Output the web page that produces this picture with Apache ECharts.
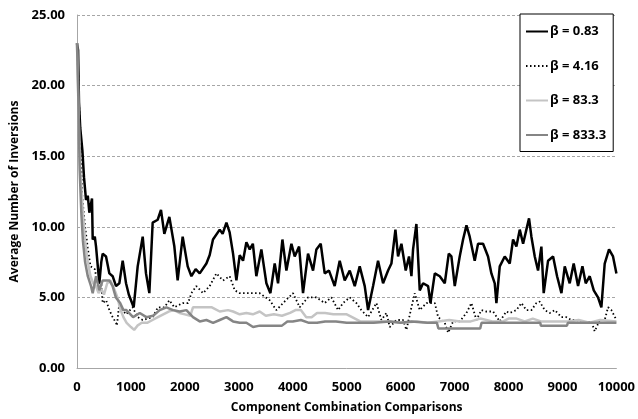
<!DOCTYPE html>
<html>
<head>
<meta charset="utf-8">
<script src="https://cdn.jsdelivr.net/npm/echarts@6/dist/echarts.min.js"></script>
<style>
  html, body { margin: 0; padding: 0; background: #fff; }
  #chart { width: 638px; height: 419px; }
</style>
</head>
<body>
<div id="chart"></div>
<script>
// beta = 0.83
const xB1 = [0, 20, 37, 60, 100, 130, 167, 200, 229, 278, 291, 330, 353, 414, 450, 476, 538, 600, 661, 723, 785, 847, 909, 960, 1001, 1051, 1125, 1218, 1279, 1341, 1403, 1496, 1557, 1619, 1712, 1805, 1866, 1959, 2052, 2121, 2200, 2275, 2399, 2460, 2521, 2646, 2700, 2770, 2830, 2893, 2955, 3016, 3078, 3140, 3202, 3260, 3325, 3418, 3511, 3585, 3665, 3727, 3808, 3882, 3975, 4036, 4117, 4190, 4283, 4376, 4438, 4518, 4592, 4672, 4777, 4870, 4963, 5056, 5149, 5241, 5334, 5396, 5489, 5581, 5674, 5767, 5829, 5903, 5952, 6014, 6094, 6155, 6200, 6230, 6292, 6354, 6416, 6509, 6553, 6633, 6725, 6818, 6892, 6941, 7003, 7095, 7157, 7220, 7280, 7373, 7435, 7528, 7620, 7682, 7744, 7775, 7837, 7930, 8022, 8084, 8146, 8208, 8270, 8331, 8380, 8424, 8486, 8547, 8609, 8652, 8733, 8826, 8900, 8981, 9042, 9134, 9208, 9289, 9370, 9431, 9505, 9580, 9659, 9721, 9783, 9863, 9937, 10000];
const yB1 = [23.0, 22.5, 18.8, 17.0, 15.4, 13.5, 11.9, 12.2, 11.0, 12.0, 9.1, 9.3, 8.6, 6.0, 7.5, 8.1, 7.9, 6.7, 6.5, 5.8, 6.0, 7.6, 6.0, 5.2, 4.8, 4.3, 7.2, 9.3, 6.7, 5.3, 10.3, 10.5, 11.2, 9.5, 10.7, 8.6, 6.2, 9.3, 7.2, 6.5, 7.0, 6.7, 7.4, 8.0, 9.1, 9.8, 9.5, 10.3, 9.6, 8.1, 6.2, 8.0, 7.6, 8.9, 8.4, 8.8, 6.5, 8.4, 6.0, 5.3, 7.4, 6.0, 9.1, 6.9, 8.8, 7.9, 8.6, 5.3, 8.1, 6.9, 8.4, 8.8, 6.7, 6.9, 5.8, 7.6, 6.2, 6.9, 5.8, 7.2, 5.8, 4.1, 5.8, 7.6, 6.0, 6.9, 7.4, 9.8, 7.9, 8.8, 6.9, 7.9, 6.5, 8.4, 10.2, 5.5, 6.0, 5.8, 4.6, 6.7, 6.5, 6.0, 8.1, 7.9, 5.8, 7.9, 9.1, 10.1, 9.3, 7.6, 8.8, 8.8, 7.9, 6.7, 6.0, 4.6, 7.2, 7.9, 7.4, 9.1, 8.6, 9.8, 8.8, 9.8, 10.6, 9.3, 7.9, 6.9, 8.6, 5.3, 7.6, 7.9, 6.5, 5.3, 7.2, 6.0, 7.4, 5.8, 7.2, 6.0, 6.5, 5.5, 5.0, 4.3, 7.4, 8.4, 7.9, 6.7];

// beta = 4.16
const xB2 = [0, 30, 60, 100, 150, 200, 250, 330, 380, 450, 476, 540, 600, 661, 723, 740, 785, 847, 909, 1030, 1125, 1218, 1403, 1500, 1620, 1712, 1805, 1959, 2059, 2121, 2213, 2337, 2460, 2584, 2707, 2831, 2924, 3016, 3202, 3387, 3572, 3696, 3820, 4005, 4129, 4283, 4438, 4592, 4716, 4840, 4932, 5056, 5180, 5272, 5396, 5551, 5643, 5736, 5798, 5921, 6044, 6107, 6200, 6261, 6354, 6478, 6633, 6695, 6818, 6880, 6973, 7095, 7220, 7312, 7404, 7497, 7590, 7713, 7837, 7960, 8022, 8146, 8239, 8331, 8424, 8517, 8578, 8671, 8764, 8857, 8981, 9073, 9166, 9258, 9351, 9444, 9536, 9598, 9691, 9783, 9845, 9907, 10000];
const yB2 = [23.0, 20.0, 16.0, 12.0, 10.0, 8.5, 7.2, 7.0, 6.0, 6.0, 4.6, 4.8, 4.1, 3.6, 3.2, 3.0, 4.6, 4.1, 3.8, 4.3, 3.6, 3.4, 3.6, 4.3, 4.3, 4.8, 4.3, 4.6, 4.6, 5.3, 5.8, 5.3, 5.8, 6.7, 6.2, 6.5, 5.5, 5.3, 5.3, 5.3, 4.8, 4.1, 4.6, 5.3, 4.3, 5.0, 5.0, 4.6, 5.0, 4.1, 4.6, 5.0, 4.6, 4.1, 3.6, 4.6, 3.4, 3.9, 2.9, 3.4, 3.4, 2.7, 4.3, 5.3, 4.1, 4.6, 4.6, 3.6, 3.2, 2.5, 3.3, 3.3, 3.9, 4.6, 3.4, 4.1, 4.0, 4.0, 3.3, 4.0, 3.9, 4.1, 4.6, 4.1, 4.1, 4.6, 4.7, 4.1, 3.9, 4.1, 3.6, 3.6, 3.4, 3.4, 3.3, 3.2, 3.3, 2.6, 3.4, 3.4, 4.3, 4.1, 3.4];

// beta = 83.3
const xB3 = [0, 30, 60, 100, 150, 200, 250, 300, 350, 400, 450, 500, 560, 620, 690, 750, 800, 860, 920, 1000, 1060, 1120, 1200, 1300, 1400, 1500, 1600, 1700, 1800, 1900, 2000, 2100, 2150, 2250, 2400, 2500, 2646, 2800, 2893, 3016, 3140, 3260, 3387, 3500, 3650, 3800, 3950, 4050, 4150, 4250, 4350, 4450, 4600, 4750, 4900, 5000, 5100, 5250, 5500, 5800, 6000, 6300, 6500, 6700, 6900, 7100, 7300, 7475, 7700, 7900, 8000, 8150, 8300, 8450, 8600, 8800, 9000, 9100, 9300, 9500, 9700, 10000];
const yB3 = [23.0, 18.0, 14.0, 11.5, 9.0, 7.5, 6.5, 6.0, 5.8, 5.3, 5.6, 5.2, 6.0, 6.2, 5.6, 5.0, 4.2, 3.6, 3.2, 2.9, 2.7, 3.0, 3.2, 3.2, 3.4, 3.6, 3.8, 4.0, 4.1, 3.9, 3.8, 3.7, 4.3, 4.3, 4.3, 4.3, 4.0, 4.1, 4.0, 3.8, 3.9, 3.8, 4.0, 3.7, 3.8, 3.7, 3.9, 4.1, 4.1, 3.6, 3.6, 3.9, 3.9, 3.8, 3.8, 3.8, 3.6, 3.3, 3.3, 3.3, 3.2, 3.3, 3.2, 3.3, 3.4, 3.3, 3.3, 3.5, 3.3, 3.3, 3.5, 3.5, 3.3, 3.5, 3.3, 3.3, 3.3, 3.3, 3.4, 3.2, 3.4, 3.3];

// beta = 833.3
const xB4 = [0, 20, 50, 80, 110, 150, 200, 260, 291, 353, 414, 476, 538, 600, 660, 720, 800, 860, 915, 1040, 1163, 1286, 1410, 1533, 1657, 1780, 1904, 2028, 2150, 2275, 2399, 2523, 2646, 2770, 2893, 3016, 3140, 3264, 3387, 3500, 3650, 3800, 3900, 4000, 4150, 4300, 4450, 4600, 4800, 5000, 5250, 5500, 5800, 6000, 6200, 6500, 6672, 6700, 7000, 7300, 7475, 7500, 7800, 8000, 8300, 8588, 8600, 9000, 9083, 9100, 9500, 10000];
const yB4 = [23.0, 20.0, 14.0, 11.0, 9.0, 7.5, 6.5, 5.8, 5.3, 6.5, 5.5, 6.2, 6.2, 6.2, 5.8, 5.0, 4.6, 4.1, 4.1, 3.6, 3.9, 3.6, 3.7, 4.1, 4.3, 4.1, 4.0, 4.1, 3.6, 3.3, 3.4, 3.2, 3.4, 3.6, 3.3, 3.2, 3.2, 2.9, 3.0, 3.0, 3.0, 3.0, 3.3, 3.3, 3.4, 3.2, 3.2, 3.3, 3.3, 3.2, 3.2, 3.2, 3.3, 3.2, 3.3, 3.2, 3.2, 2.8, 2.8, 2.8, 2.8, 3.2, 3.2, 3.2, 3.2, 3.2, 3.0, 3.0, 3.0, 3.2, 3.2, 3.2];

const names = ['β = 0.83', 'β = 4.16', 'β = 83.3', 'β = 833.3'];
const font = 'Open Sans';

const pairs = (xs, ys) => xs.map((x, i) => [x, ys[i]]);

const chart = echarts.init(document.getElementById('chart'));
const option = {
  animation: false,
  textStyle: { fontFamily: font },
  grid: { left: 77, right: 21, top: 15, bottom: 51 },
  legend: {
    orient: 'vertical',
    left: 520,
    top: 14,
    padding: [11, 7, 10, 5],
    itemGap: 21.5,
    itemWidth: 22,
    itemHeight: 14,
    backgroundColor: '#fff',
    borderColor: '#000',
    borderWidth: 1,
    itemStyle: { opacity: 0 },
    textStyle: { fontFamily: font, fontWeight: 'bold', fontSize: 13, color: '#000', padding: [0, 0, 0, -3] },
    data: names
  },
  xAxis: {
    type: 'value',
    min: 0,
    max: 10000,
    interval: 1000,
    name: 'Component Combination Comparisons',
    nameLocation: 'middle',
    nameGap: 34,
    nameTextStyle: { fontFamily: font, fontWeight: 'bold', fontSize: 12, color: '#000' },
    axisLine: { lineStyle: { color: '#a6a6a6' } },
    axisTick: { show: false },
    splitLine: { show: false },
    axisLabel: { fontFamily: font, fontWeight: 'bold', fontSize: 13, color: '#000', margin: 13, formatter: v => String(v) }
  },
  yAxis: {
    type: 'value',
    min: 0,
    max: 25,
    interval: 5,
    name: 'Average Number of Inversions',
    nameLocation: 'middle',
    nameGap: 56,
    nameTextStyle: { fontFamily: font, fontWeight: 'bold', fontSize: 12, color: '#000' },
    axisLine: { show: true, lineStyle: { color: '#a6a6a6' } },
    axisTick: { show: false },
    splitLine: { lineStyle: { color: '#a6a6a6', type: [3, 2] } },
    axisLabel: {
      fontFamily: font, fontWeight: 'bold', fontSize: 13, color: '#000', margin: 12,
      formatter: v => v.toFixed(2)
    }
  },
  series: [
    { name: names[0], type: 'line', symbol: 'none', data: pairs(xB1, yB1), lineStyle: { color: '#000', width: 2.5 }, itemStyle: { color: '#000' } },
    { name: names[1], type: 'line', symbol: 'none', data: pairs(xB2, yB2), lineStyle: { color: '#000', width: 1.8, type: [1.5, 2.5] }, itemStyle: { color: '#000' } },
    { name: names[2], type: 'line', symbol: 'none', data: pairs(xB3, yB3), lineStyle: { color: '#c4c4c4', width: 2.5 }, itemStyle: { color: '#c4c4c4' } },
    { name: names[3], type: 'line', symbol: 'none', data: pairs(xB4, yB4), lineStyle: { color: '#858585', width: 2.5 }, itemStyle: { color: '#858585' } }
  ]
};
chart.setOption(option);
</script>
</body>
</html>
